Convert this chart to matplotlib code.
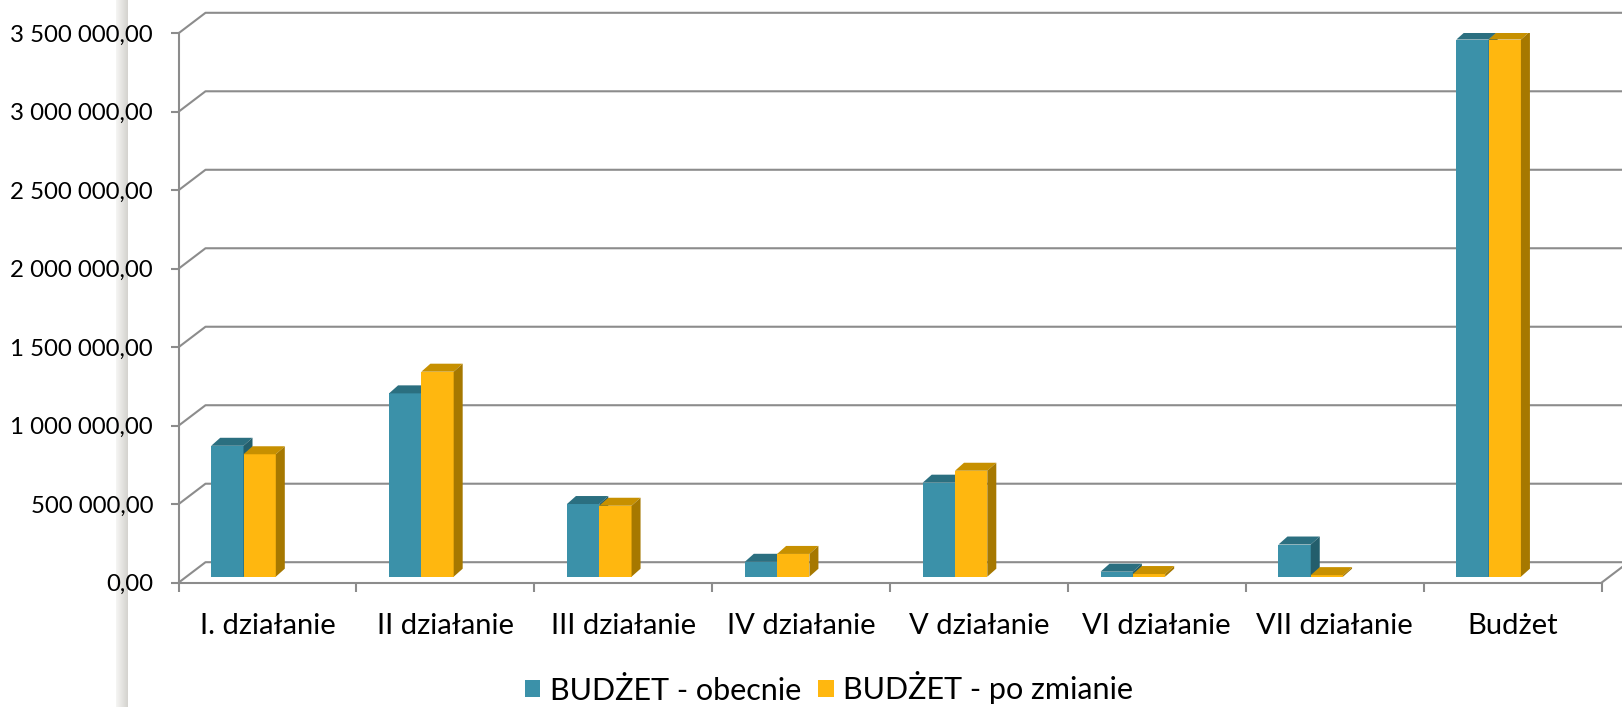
import numpy as np
import matplotlib
matplotlib.use('Agg')
import matplotlib.pyplot as plt
from matplotlib.patches import Polygon, Patch

categories = ['I. działanie', 'II działanie', 'III działanie', 'IV działanie',
              'V działanie', 'VI działanie', 'VII działanie', 'Budżet']
obecnie = [834000, 1168000, 463000, 95000, 599000, 32000, 205000, 3422000]
po_zmianie = [780000, 1306000, 452000, 145000, 675000, 17000, 10000, 3422000]
series_names = ['BUDŻET - obecnie', 'BUDŻET - po zmianie']
yticks = np.arange(0, 3500001, 500000)

plt.rcParams['font.family'] = ['Lato', 'DejaVu Sans']

# colours: front, top, side
teal = ('#3b91a9', '#2b6f80', '#235e6c')
gold = ('#ffb70f', '#c79000', '#a67800')
gc = '#8c8c8c'

W, H = 1622, 707
fig = plt.figure(figsize=(W / 100, H / 100), dpi=100)
fig.patch.set_facecolor('white')

# plot area in pixels (front plane)
x0, x1 = 178.5, 1601.5
y0, y1 = 582.7, 33.3
ax = fig.add_axes([x0 / W, 1 - y0 / H, (x1 - x0) / W, (y0 - y1) / H])
ax.set_xlim(0, len(categories))
ax.set_ylim(0, 3500000)
ax.set_facecolor('none')

cpx = (x1 - x0) / len(categories)   # px per category
vpx = (y0 - y1) / 3500000           # px per unit of value

# back wall / floor depth
gdx, gdy = 27 / cpx, 20.5 / vpx
for v in yticks:
    ax.plot([0, gdx, len(categories) + 0.3], [v, v + gdy, v + gdy],
            color=gc, lw=1.5, clip_on=False, zorder=1, solid_capstyle='butt')
ax.plot([len(categories), len(categories) + gdx], [0, gdy], color=gc, lw=1.5,
        clip_on=False, zorder=1)

for s in ['top', 'right']:
    ax.spines[s].set_visible(False)
for s in ['left', 'bottom']:
    ax.spines[s].set_color(gc)
    ax.spines[s].set_linewidth(1.5)

ax.set_yticks(yticks)
ax.set_yticklabels([f'{v:,.2f}'.replace(',', ' ').replace('.', ',') for v in yticks])
ax.tick_params(axis='y', length=5.8, width=1.5, color=gc, pad=12.5, labelsize=17.3)

idx = np.arange(len(categories))
ax.set_xticks(np.arange(len(categories) + 1))
ax.set_xticklabels([])
ax.tick_params(axis='x', which='major', length=6.5, width=1.5, color=gc)
ax.set_xticks(idx + 0.5, minor=True)
ax.set_xticklabels(categories, minor=True)
ax.tick_params(axis='x', which='minor', length=0, labelsize=21, pad=22)

# 3d-looking bars
bw = 32.3 / cpx
boff = 32.7 / cpx
base = 6 / vpx
ddx, ddy = 9 / cpx, 8 / vpx


def bar3d(xs, vals, cols):
    ax.bar(xs, vals, width=bw, bottom=base, align='edge', color=cols[0],
           edgecolor='none', zorder=3)
    for x, v in zip(xs, vals):
        t = base + v
        ax.add_patch(Polygon([(x, t), (x + bw, t), (x + bw + ddx, t + ddy),
                              (x + ddx, t + ddy)], closed=True,
                             facecolor=cols[1], edgecolor='none', zorder=3))
        ax.add_patch(Polygon([(x + bw, base), (x + bw, t),
                              (x + bw + ddx, t + ddy), (x + bw + ddx, base + ddy)],
                             closed=True, facecolor=cols[2], edgecolor='none',
                             zorder=3))


bar3d(idx + boff, obecnie, teal)
bar3d(idx + boff + bw, po_zmianie, gold)

handles = [Patch(facecolor=teal[0]), Patch(facecolor=gold[0])]
fig.legend(handles, series_names, loc='center', bbox_to_anchor=(829 / W, 19 / H),
           ncol=2, frameon=False, fontsize=22, handlelength=0.51, handleheight=0.51,
           handletextpad=0.30, columnspacing=0.575, borderpad=0)

# grey shading strip on the left side of the slide
sax = fig.add_axes([116 / W, 0, 12 / W, 1], zorder=-1)
grad = np.linspace(0, 1, 64).reshape(1, -1)
sax.imshow(grad, aspect='auto', cmap=matplotlib.colors.LinearSegmentedColormap.from_list(
    'strip', ['#f6f6f4', '#d4d2ce']), extent=[0, 1, 0, 1])
sax.axis('off')

fig.savefig('out.png', dpi=100)
